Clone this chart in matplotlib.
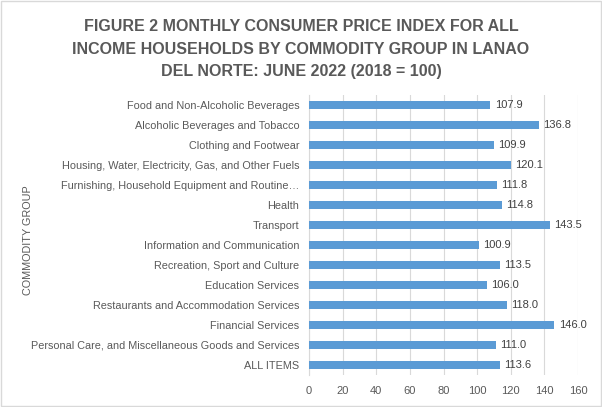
import matplotlib.pyplot as plt
from matplotlib.patches import Rectangle

categories = [
    "Food and Non-Alcoholic Beverages",
    "Alcoholic Beverages and Tobacco",
    "Clothing and Footwear",
    "Housing, Water, Electricity, Gas, and Other Fuels",
    "Furnishing, Household Equipment and Routine\u2026",
    "Health",
    "Transport",
    "Information and Communication",
    "Recreation, Sport and Culture",
    "Education Services",
    "Restaurants and Accommodation Services",
    "Financial Services",
    "Personal Care, and Miscellaneous Goods and Services",
    "ALL ITEMS",
]
values = [107.9, 136.8, 109.9, 120.1, 111.8, 114.8, 143.5,
          100.9, 113.5, 106.0, 118.0, 146.0, 111.0, 113.6]
xticks = [0, 20, 40, 60, 80, 100, 120, 140, 160]

plt.rcParams['font.family'] = ['Liberation Sans', 'DejaVu Sans']
txt = '#595959'

fig = plt.figure(figsize=(6.02, 4.07), dpi=100)
ax = fig.add_axes([309 / 602, 1 - 375 / 407, 269 / 602, 280 / 407])

y = list(range(len(categories)))
ax.barh(y, values, height=0.42, color='#5b9bd5', zorder=3)
for yi, v in zip(y, values):
    ax.text(v + 2.5, yi, f"{v:.1f}", va='center', ha='left', fontsize=8, color='#404040')

ax.set_ylim(len(categories) - 0.5, -0.5)
ax.set_xlim(0, 160)
ax.set_xticks(xticks)
ax.set_yticks(y)
ax.set_yticklabels(categories, fontsize=7.8, color=txt)
ax.tick_params(axis='x', labelsize=8, colors=txt, length=0, pad=8)
ax.tick_params(axis='y', length=0, pad=7)
ax.grid(axis='x', color='#d9d9d9', linewidth=0.8, zorder=0)
for s in ['top', 'right', 'bottom']:
    ax.spines[s].set_visible(False)
ax.spines['left'].set_color('#d9d9d9')

fig.text(28 / 602, 1 - 240 / 407, "COMMODITY GROUP", rotation=90, ha='center', va='center',
         fontsize=7.8, color=txt)

fig.text(0.5, 1 - 49 / 407,
         "FIGURE 2 MONTHLY CONSUMER PRICE INDEX FOR ALL\nINCOME HOUSEHOLDS BY COMMODITY GROUP IN LANAO\nDEL NORTE: JUNE 2022 (2018 = 100)",
         ha='center', va='center', fontsize=11.5, fontweight='bold', color=txt, linespacing=1.6)

fig.patches.append(Rectangle((0.002, 0.002), 0.996, 0.996, transform=fig.transFigure,
                             fill=False, edgecolor='#d9d9d9', linewidth=1))

fig.savefig('out.png', dpi=100)
